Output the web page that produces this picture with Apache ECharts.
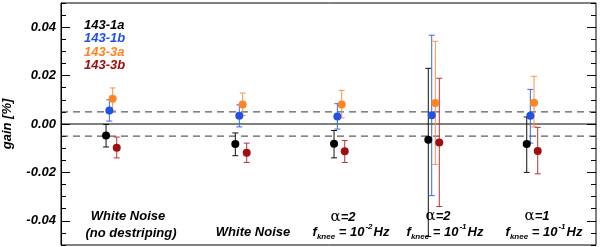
<!DOCTYPE html>
<html>
<head>
<meta charset="utf-8">
<script src="https://cdn.jsdelivr.net/npm/echarts@6/dist/echarts.min.js"></script>
<style>html,body{margin:0;padding:0;background:#fff}#c{width:600px;height:247px}</style>
</head>
<body>
<div id="c"></div>
<script>
// ---- data ----
const seriesNames = ['143-1a', '143-1b', '143-3a', '143-3b'];
// x positions (axis units) of each detector in the 5 configurations
const x1a = [0.463, 1.792, 2.807, 3.776, 4.788];
const x1b = [0.497, 1.833, 2.841, 3.811, 4.825];
const x3a = [0.531, 1.868, 2.886, 3.848, 4.863];
const x3b = [0.573, 1.909, 2.917, 3.889, 4.901];
// gain values [%]
const y1a = [-0.0048, -0.0083, -0.0082, -0.0065, -0.0083];
const y1b = [0.0056, 0.0034, 0.0031, 0.0036, 0.0034];
const y3a = [0.0104, 0.0081, 0.0081, 0.0087, 0.0088];
const y3b = [-0.0098, -0.0119, -0.0113, -0.0076, -0.0112];
// error bar lower / upper ends
const lo1a = [-0.0095, -0.0131, -0.0140, -0.0465, -0.0200];
const hi1a = [-0.0002, -0.0037, -0.0027, 0.0230, 0.0029];
const lo1b = [0.0012, -0.0012, -0.0021, -0.0296, -0.0079];
const hi1b = [0.0100, 0.0079, 0.0084, 0.0367, 0.0143];
const lo3a = [0.0055, 0.0035, 0.0025, -0.0167, -0.0012];
const hi3a = [0.0149, 0.0128, 0.0139, 0.0342, 0.0197];
const lo3b = [-0.0140, -0.0159, -0.0159, -0.0341, -0.0206];
const hi3b = [-0.0054, -0.0079, -0.0068, 0.0189, -0.0014];
const refLines = [0.005, -0.005];
const zeroLine = 0;
const majorTicks = [-0.04, -0.02, 0, 0.02, 0.04];
const xMin = 0, xMax = 5.5;

const colors = ['#000000', '#1f52e6', '#ff8422', '#a00e10'];
const barColors = ['#111111', '#3a66e8', '#f39448', '#b8353a'];
const X = [x1a, x1b, x3a, x3b];
const Y = [y1a, y1b, y3a, y3b];
const LO = [lo1a, lo1b, lo3a, lo3b];
const HI = [hi1a, hi1b, hi3a, hi3b];

const chart = echarts.init(document.getElementById('c'));
const FONT = 'Liberation Sans';

const series = [];
refLines.forEach(v => {
  series.push({ type: 'line', silent: true, symbol: 'none', z: 1,
    lineStyle: { type: [7, 5], color: '#333', width: 1 },
    data: [[xMin, v], [xMax, v]] });
});
series.push({ type: 'line', silent: true, symbol: 'none', z: 1,
  lineStyle: { type: 'solid', color: '#000', width: 1 },
  data: [[xMin, zeroLine], [xMax, zeroLine]] });

seriesNames.forEach((n, i) => {
  series.push({
    name: n + ' err', type: 'custom', z: 2,
    data: X[i].map((x, k) => [x, LO[i][k], HI[i][k]]),
    renderItem: function (params, api) {
      const x = api.value(0);
      const p1 = api.coord([x, api.value(1)]);
      const p2 = api.coord([x, api.value(2)]);
      const hw = 3;
      const st = { stroke: barColors[i], lineWidth: 1 };
      return { type: 'group', children: [
        { type: 'line', shape: { x1: p1[0], y1: p1[1], x2: p2[0], y2: p2[1] }, style: st },
        { type: 'line', shape: { x1: p1[0] - hw, y1: p1[1], x2: p1[0] + hw, y2: p1[1] }, style: st },
        { type: 'line', shape: { x1: p2[0] - hw, y1: p2[1], x2: p2[0] + hw, y2: p2[1] }, style: st }
      ]};
    },
    silent: true
  });
});
seriesNames.forEach((n, i) => {
  series.push({
    name: n, type: 'scatter', z: 3, symbolSize: 8,
    itemStyle: { color: colors[i], opacity: 1 },
    data: X[i].map((x, k) => [x, Y[i][k]]),
    silent: true
  });
});

const yBase = { type: 'value', min: -0.05, max: 0.05, interval: 0.005, splitLine: { show: false } };
const lbl = { fontFamily: FONT, fontWeight: 'bold', fontStyle: 'italic', fontSize: 13, color: '#000' };

const txtBase = { fontFamily: FONT, fontWeight: 'bold', fontStyle: 'italic', fontSize: 13, fill: '#000' };
const fknee = (exp) => '{f|f}{s|knee}{b| = 10}{p|' + exp + '}{b|Hz}';
const rich = {
  f: { fontFamily: FONT, fontWeight: 'bold', fontStyle: 'italic', fontSize: 13, lineHeight: 18 },
  b: { fontFamily: FONT, fontWeight: 'bold', fontStyle: 'italic', fontSize: 13, lineHeight: 18 },
  s: { fontFamily: FONT, fontWeight: 'bold', fontStyle: 'italic', fontSize: 8, lineHeight: 9, verticalAlign: 'bottom' },
  p: { fontFamily: FONT, fontWeight: 'bold', fontStyle: 'italic', fontSize: 8, lineHeight: 10, verticalAlign: 'top', padding: [0, 1, 0, 1] },
  a: { fontFamily: 'DejaVu Serif', fontSize: 15, lineHeight: 18 }
};
const alpha = (v) => '{a|α}{b|=' + v + '}';
function t(text, x, y) {
  return { type: 'text', x: x, y: y, z: 100,
    style: Object.assign({ text: text, align: 'center', verticalAlign: 'middle', rich: rich }, txtBase) };
}
const graphics = [
  t('White Noise', 128, 216), t('(no destriping)', 131, 233),
  t('White Noise', 253, 232),
  t(alpha(2), 343, 217), t(fknee('-2'), 351, 232),
  t(alpha(2), 438, 216), t(fknee('-1'), 445, 232),
  t(alpha(1), 537, 216), t(fknee('-1'), 544, 232)
];
seriesNames.forEach((n, i) => {
  graphics.push({ type: 'text', x: 84, y: 25 + i * 13.6, z: 100,
    style: Object.assign({}, txtBase, { text: n, fill: colors[i], align: 'left', verticalAlign: 'middle' }) });
});

chart.setOption({
  animation: false,
  grid: { left: 61, right: 4, top: 3, bottom: 2, show: true, borderColor: '#000', borderWidth: 1,
    containLabel: false, outerBoundsMode: 'none' },
  xAxis: { type: 'value', min: xMin, max: xMax, show: false },
  yAxis: [
    Object.assign({}, yBase, {
      position: 'left',
      name: 'gain [%]', nameLocation: 'middle', nameGap: 47,
      nameTextStyle: { fontFamily: FONT, fontWeight: 'bold', fontStyle: 'italic', fontSize: 13, color: '#000' },
      axisLine: { show: true, lineStyle: { color: '#000', width: 1 } },
      axisTick: { show: true, inside: true, length: 5, lineStyle: { color: '#000' } },
      axisLabel: Object.assign({ customValues: majorTicks, margin: 5, formatter: v => v.toFixed(2) }, lbl)
    }),
    Object.assign({}, yBase, {
      position: 'left',
      axisLine: { show: false },
      axisTick: { show: true, inside: true, length: 9, customValues: majorTicks, lineStyle: { color: '#000' } },
      axisLabel: { show: false }
    }),
    Object.assign({}, yBase, {
      position: 'right',
      axisLine: { show: false },
      axisTick: { show: true, inside: true, length: 5, lineStyle: { color: '#000' } },
      axisLabel: { show: false }
    }),
    Object.assign({}, yBase, {
      position: 'right',
      axisLine: { show: false },
      axisTick: { show: true, inside: true, length: 9, customValues: majorTicks, lineStyle: { color: '#000' } },
      axisLabel: { show: false }
    })
  ],
  series: series,
  graphic: graphics
});
</script>
</body>
</html>
